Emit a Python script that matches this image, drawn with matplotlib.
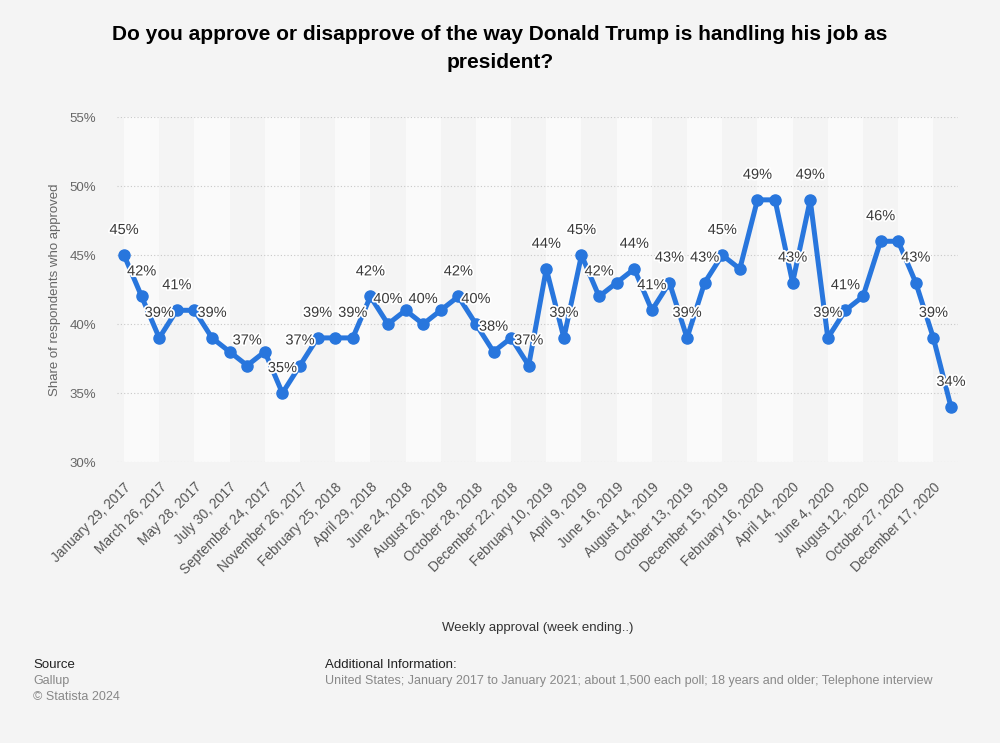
import matplotlib
matplotlib.use("Agg")
import matplotlib.pyplot as plt
import matplotlib.patheffects as pe

plt.rcParams['font.family'] = ['Liberation Sans', 'DejaVu Sans']

approval = [45, 42, 39, 41, 41, 39, 38, 37, 38, 35, 37, 39, 39, 39, 42, 40,
            41, 40, 41, 42, 40, 38, 39, 37, 44, 39, 45, 42, 43, 44, 41, 43,
            39, 43, 45, 44, 49, 49, 43, 49, 39, 41, 42, 46, 46, 43, 39, 34]

tick_labels = ["January 29, 2017", "March 26, 2017", "May 28, 2017", "July 30, 2017",
               "September 24, 2017", "November 26, 2017", "February 25, 2018",
               "April 29, 2018", "June 24, 2018", "August 26, 2018", "October 28, 2018",
               "December 22, 2018", "February 10, 2019", "April 9, 2019", "June 16, 2019",
               "August 14, 2019", "October 13, 2019", "December 15, 2019",
               "February 16, 2020", "April 14, 2020", "June 4, 2020", "August 12, 2020",
               "October 27, 2020", "December 17, 2020"]

labeled = [0, 1, 2, 3, 5, 7, 9, 10, 11, 13, 14, 15, 17, 19, 20, 21, 23, 24, 25, 26,
           27, 29, 30, 31, 32, 33, 34, 36, 38, 39, 40, 41, 43, 45, 46, 47]

bg = '#f4f4f4'
fig = plt.figure(figsize=(10, 7.43), dpi=100, facecolor=bg)
ax = fig.add_axes([0.117, 0.378, 0.841, 0.4645])
ax.set_facecolor(bg)

n = len(approval)
x = list(range(n))

# alternating bands
for k in range(0, n, 4):
    ax.axvspan(k, min(k + 2, n), color='#fafafa', zorder=0, lw=0)

ax.set_xlim(-0.4, n - 1 + 0.4)
ax.set_ylim(30, 55)
ax.set_yticks([30, 35, 40, 45, 50, 55])
ax.set_yticklabels([f"{v}%" for v in [30, 35, 40, 45, 50, 55]])
ax.yaxis.grid(True, color='#c8c8c8', linestyle=(0, (1, 2)), lw=0.8, zorder=1)
ax.xaxis.grid(False)
for s in ax.spines.values():
    s.set_visible(False)

ax.plot(x, approval, color='#2876dd', lw=3.6, marker='o', ms=8, zorder=3,
        solid_joinstyle='round')

for i in labeled:
    ax.annotate(f"{approval[i]}%", (i, approval[i]), xytext=(0, 13),
                textcoords='offset points', ha='center', va='bottom',
                fontsize=10.5, color='#3a3a3a', zorder=4,
                path_effects=[pe.withStroke(linewidth=2.5, foreground='white')])

ax.set_xticks(x[::2])
ax.set_xticklabels(tick_labels, rotation=45, ha='right', rotation_mode='anchor',
                   fontsize=9.8, color='#555555')
ax.tick_params(axis='x', length=0, pad=13)
ax.tick_params(axis='y', length=0, pad=15, labelsize=9.5, labelcolor='#666666')

ax.set_ylabel("Share of respondents who approved", fontsize=9.5, color='#666666',
              labelpad=6)
fig.text(0.538, 1 - 628 / 743, "Weekly approval (week ending..)", ha='center',
         va='center', fontsize=9.5, color='#333333')

fig.text(0.5, 1 - 49 / 743,
         "Do you approve or disapprove of the way Donald Trump is handling his job as\npresident?",
         ha='center', va='center', fontsize=15, fontweight='bold', color='#000000',
         linespacing=1.6)

fig.text(0.033, 1 - 665 / 743, "Source", fontsize=9.5, color='#222222', va='center')
fig.text(0.033, 1 - 681 / 743, "Gallup", fontsize=9, color='#888888', va='center')
fig.text(0.033, 1 - 697 / 743, "© Statista 2024", fontsize=9, color='#888888', va='center')
fig.text(0.325, 1 - 665 / 743, "Additional Information:", fontsize=9.5, color='#222222',
         va='center')
fig.text(0.325, 1 - 681 / 743,
         "United States; January 2017 to January 2021; about 1,500 each poll; 18 years and older; Telephone interview",
         fontsize=9, color='#888888', va='center')

fig.savefig("out.png", dpi=100, facecolor=bg)
